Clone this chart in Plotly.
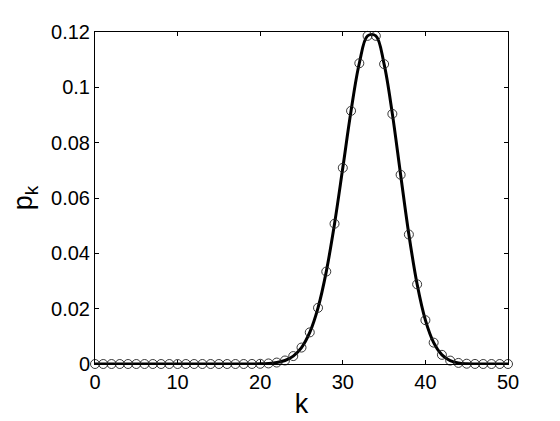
import plotly.graph_objects as go

k = list(range(51))
p_k = [0, 0, 0, 0, 0, 0, 0, 0, 0, 0,
       0, 0, 0, 0, 0, 0, 0, 0, 0, 0.000022,
       0.000069, 0.000198, 0.000521, 0.00127, 0.00286, 0.00594, 0.01143, 0.0203, 0.0334, 0.0507,
       0.0709, 0.0915, 0.1087, 0.1186, 0.1186, 0.1084, 0.0904, 0.0684, 0.0468, 0.0288,
       0.01584, 0.00773, 0.00331, 0.00123, 0.000392, 0.000105, 0.000023, 0.000004, 0, 0,
       0]

x_ticks = [0, 10, 20, 30, 40, 50]
y_ticks = [0, 0.02, 0.04, 0.06, 0.08, 0.1, 0.12]
y_tick_text = ["0", "0.02", "0.04", "0.06", "0.08", "0.1", "0.12"]

fig = go.Figure()
fig.add_trace(go.Scatter(x=k, y=p_k, mode="lines", line=dict(color="black", width=3, shape="spline", smoothing=1.0),
                         hoverinfo="skip", showlegend=False))
fig.add_trace(go.Scatter(x=k, y=p_k, mode="markers", cliponaxis=False,
                         marker=dict(symbol="circle-open", size=9, color="#222222", line=dict(width=0.9)),
                         showlegend=False))

font = "Liberation Sans, Arial, Helvetica, sans-serif"
fig.update_layout(
    width=560, height=421,
    margin=dict(l=87, r=60, t=24, b=65),
    paper_bgcolor="white", plot_bgcolor="white",
    font=dict(family=font, color="black", size=20),
)
fig.update_xaxes(range=[0, 50], tickvals=x_ticks, ticks="inside", ticklen=4, tickcolor="black",
                 showline=True, linecolor="black", linewidth=1, mirror="ticks", showgrid=False, zeroline=False,
                 tickfont=dict(size=20), automargin=False,
                 title=dict(text="k", font=dict(size=27), standoff=2))
fig.update_yaxes(range=[0, 0.12], tickvals=y_ticks, ticktext=y_tick_text, ticks="inside", ticklen=4, tickcolor="black",
                 showline=True, linecolor="black", linewidth=1, mirror="ticks", showgrid=False, zeroline=False,
                 tickfont=dict(size=20), automargin=False,
                 title=dict(text="p<sub>k</sub>", font=dict(size=27), standoff=17))

fig.write_html("out.html")
